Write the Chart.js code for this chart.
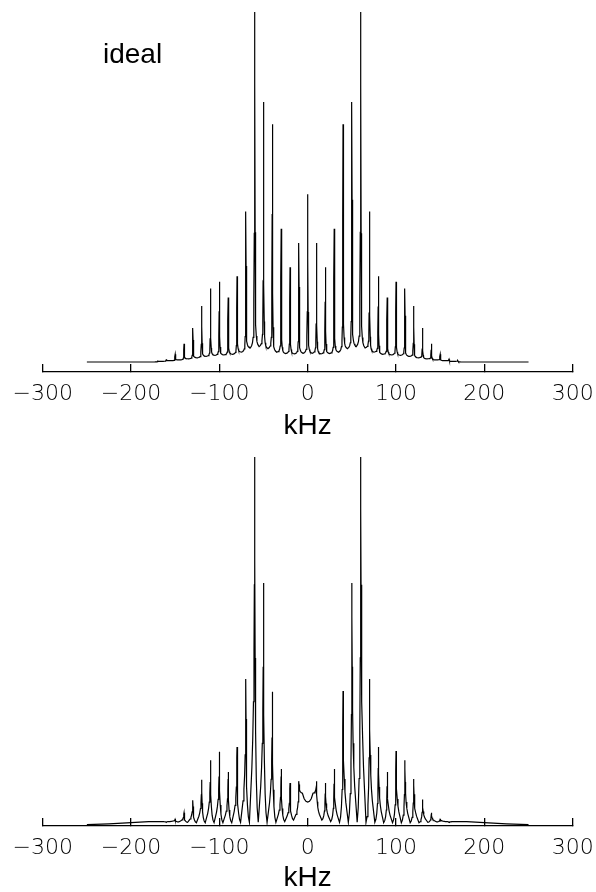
<!DOCTYPE html>
<html>
<head>
<meta charset="utf-8">
<script src="https://cdn.jsdelivr.net/npm/chart.js@4.4.0/dist/chart.umd.min.js"></script>
<style>
  html, body { margin: 0; padding: 0; background: #fff; }
  #wrap { position: relative; width: 596px; height: 892px; overflow: hidden; background: #fff; }
  .panel { position: absolute; left: 0; width: 596px; height: 446px; }
</style>
</head>
<body>
<div id="wrap">
  <div class="panel" style="top:0"><canvas id="top" width="596" height="446"></canvas></div>
  <div class="panel" style="top:446px"><canvas id="bottom" width="596" height="446"></canvas></div>
</div>
<script>
// ---------- data ----------
const TICK_VALUES = [-300, -200, -100, 0, 100, 200, 300];
const X_TITLE = 'kHz';
const PANEL_LABEL = 'ideal';

// top panel ("ideal"): sideband positions (kHz) and peak heights
const IDEAL_POS = [-170, -160, -150, -140, -130, -120, -110, -100, -90, -80, -70, -60, -50, -40, -30, -20, -10,
  0, 10, 20, 30, 40, 50, 60, 70, 80, 90, 100, 110, 120, 130, 140, 150, 160, 170];
const IDEAL_PEAK = [0.004, 0.008, 0.022, 0.052, 0.097, 0.16, 0.21, 0.229, 0.184, 0.245, 0.43, 1.3, 0.743, 0.679, 0.381, 0.271, 0.34,
  0.479, 0.34, 0.271, 0.381, 0.679, 0.743, 1.3, 0.43, 0.245, 0.184, 0.229, 0.21, 0.16, 0.097, 0.052, 0.022, 0.008, 0.004];
// valley levels between sidebands (-175, -165, ..., 175)
const IDEAL_VALLEY = [0, 0.002, 0.004, 0.006, 0.009, 0.012, 0.016, 0.019, 0.02, 0.022, 0.028, 0.04, 0.044, 0.038, 0.028, 0.024, 0.023, 0.025,
  0.025, 0.023, 0.024, 0.028, 0.038, 0.044, 0.04, 0.028, 0.022, 0.02, 0.019, 0.016, 0.012, 0.009, 0.006, 0.004, 0.002, 0];
// line profile of one sideband (offset in kHz, fraction of peak above valley)
const IDEAL_SHAPE_OFFSET = [-5, -3.5, -2.5, -1.8, -1.2, -0.8, -0.5, -0.25, 0, 0.25, 0.5, 0.8, 1.2, 1.8, 2.5, 3.5, 5];
const IDEAL_SHAPE_LEVEL  = [0, 0.005, 0.012, 0.024, 0.05, 0.11, 0.26, 0.6, 1, 0.6, 0.26, 0.11, 0.05, 0.024, 0.012, 0.005, 0];
const IDEAL_ENDS_X = [-250, 250];
const IDEAL_ENDS_Y = [0, 0];

// bottom panel: sideband positions and heights (no centre band)
const MEAS_POS = [-160, -150, -140, -130, -120, -110, -100, -90, -80, -70, -60, -50, -40, -30, -20, -10,
  10, 20, 30, 40, 50, 60, 70, 80, 90, 100, 110, 120, 130, 140, 150, 160];
const MEAS_PEAK = [0.006, 0.015, 0.032, 0.066, 0.122, 0.175, 0.198, 0.143, 0.211, 0.396, 1.0, 0.657, 0.361, 0.151, 0.113, 0.118,
  0.118, 0.113, 0.151, 0.363, 0.657, 1.0, 0.396, 0.211, 0.143, 0.2, 0.175, 0.124, 0.068, 0.032, 0.016, 0.006];
// outer valley of each sideband (left for negative, right for positive)
const MEAS_VALLEY = [0.008, 0.008, 0.007, 0.006, 0.005, 0.005, 0.005, 0.005, 0.005, 0.006, 0.006, 0.006, 0.006, 0.006, 0.008, 0.012,
  0.012, 0.008, 0.006, 0.006, 0.006, 0.006, 0.006, 0.005, 0.005, 0.005, 0.005, 0.005, 0.006, 0.007, 0.008, 0.008];
// profile of a negative-frequency sideband (broad outer wing, steep inner wing)
const MEAS_SHAPE_OFFSET = [-6, -4.5, -3.2, -2.2, -1.4, -0.8, -0.4, -0.15, 0, 0.2, 0.5, 1.0, 1.8, 2.8, 4];
const MEAS_SHAPE_LEVEL  = [0, 0.08, 0.15, 0.23, 0.33, 0.47, 0.65, 0.86, 1, 0.72, 0.45, 0.25, 0.12, 0.04, 0];
// central dip between -10 and +10 kHz
const CENTER_X = [-6, -4, -2, 0, 2, 4, 6];
const CENTER_Y = [0.085, 0.07, 0.063, 0.061, 0.063, 0.07, 0.085];
// broad wings outside the sidebands
const TAIL_LEFT_X = [-250, -225, -200, -180];
const TAIL_LEFT_Y = [0, 0.002, 0.005, 0.008];
const TAIL_RIGHT_X = [180, 200, 225, 250];
const TAIL_RIGHT_Y = [0.008, 0.005, 0.002, 0];

// ---------- build line data from the arrays ----------
const idealData = [{x: IDEAL_ENDS_X[0], y: IDEAL_ENDS_Y[0]}];
IDEAL_POS.forEach((p, i) => {
  const vL = IDEAL_VALLEY[i], vR = IDEAL_VALLEY[i + 1], h = IDEAL_PEAK[i];
  IDEAL_SHAPE_OFFSET.forEach((o, j) => {
    const base = o < 0 ? vL : vR;
    idealData.push({x: p + o, y: base + (h - base) * IDEAL_SHAPE_LEVEL[j]});
  });
});
idealData.push({x: IDEAL_ENDS_X[1], y: IDEAL_ENDS_Y[1]});

const measData = [];
TAIL_LEFT_X.forEach((x, i) => measData.push({x, y: TAIL_LEFT_Y[i]}));
const nNeg = MEAS_POS.filter(p => p < 0).length;
MEAS_POS.forEach((p, i) => {
  const h = MEAS_PEAK[i];
  let vL, vR, offs, levs;
  if (p < 0) {
    vL = MEAS_VALLEY[i];
    vR = i < nNeg - 1 ? MEAS_VALLEY[i + 1] : CENTER_Y[0];
    offs = MEAS_SHAPE_OFFSET; levs = MEAS_SHAPE_LEVEL;
  } else {
    vL = i > nNeg ? MEAS_VALLEY[i - 1] : CENTER_Y[CENTER_Y.length - 1];
    vR = MEAS_VALLEY[i];
    offs = MEAS_SHAPE_OFFSET.map(o => -o).reverse();
    levs = MEAS_SHAPE_LEVEL.slice().reverse();
  }
  if (i === nNeg) CENTER_X.forEach((x, k) => measData.push({x, y: CENTER_Y[k]}));
  offs.forEach((o, j) => {
    const base = o < 0 ? vL : vR;
    measData.push({x: p + o, y: base + (h - base) * levs[j]});
  });
});
TAIL_RIGHT_X.forEach((x, i) => measData.push({x, y: TAIL_RIGHT_Y[i]}));

// ---------- charts ----------
const fmt = v => (v < 0 ? '\u2212' + Math.abs(v) : String(v));

function makeOptions(yMin, yMax, padTop, axisHeight, titlePadBottom) {
  return {
    responsive: false,
    animation: false,
    events: [],
    layout: { padding: { left: 42.7, right: 23.3, top: padTop, bottom: 0 } },
    plugins: { legend: { display: false }, tooltip: { enabled: false } },
    scales: {
      x: {
        type: 'linear', min: -300, max: 300,
        afterBuildTicks: s => { s.ticks = TICK_VALUES.map(v => ({ value: v })); },
        afterFit: s => { s.height = axisHeight; s.paddingLeft = 0; s.paddingRight = 0; },
        grid: { drawOnChartArea: false, drawTicks: true, tickLength: -8, color: '#000', lineWidth: 1.3 },
        border: { display: true, color: '#000', width: 1.3 },
        ticks: {
          padding: 17, color: '#000', autoSkip: false, maxRotation: 0,
          font: { family: '"DejaVu Sans"', size: 22, weight: '200' },
          callback: v => fmt(v)
        },
        title: {
          display: true, text: X_TITLE, color: '#000',
          font: { family: '"Liberation Sans"', size: 28, lineHeight: 1 },
          padding: { top: 0, bottom: titlePadBottom }
        }
      },
      y: { display: false, min: yMin, max: yMax }
    }
  };
}

const labelPlugin = {
  id: 'panelLabel',
  afterDraw(chart) {
    const ctx = chart.ctx;
    ctx.save();
    ctx.fillStyle = '#000';
    ctx.font = '28px "Liberation Sans"';
    ctx.textBaseline = 'alphabetic';
    ctx.textAlign = 'left';
    ctx.fillText(PANEL_LABEL, 103, 63);
    ctx.restore();
  }
};

new Chart(document.getElementById('top'), {
  type: 'line',
  data: { datasets: [{ data: idealData, borderColor: '#000', borderWidth: 1.2, pointRadius: 0, tension: 0, fill: false }] },
  options: makeOptions(-0.0286, 1.0, 12, 74, 6),
  plugins: [labelPlugin]
});

new Chart(document.getElementById('bottom'), {
  type: 'line',
  data: { datasets: [{ data: measData, borderColor: '#000', borderWidth: 1.2, pointRadius: 0, tension: 0, fill: false }] },
  options: makeOptions(-0.004, 1.0, 11, 66, 0)
});
</script>
</body>
</html>
